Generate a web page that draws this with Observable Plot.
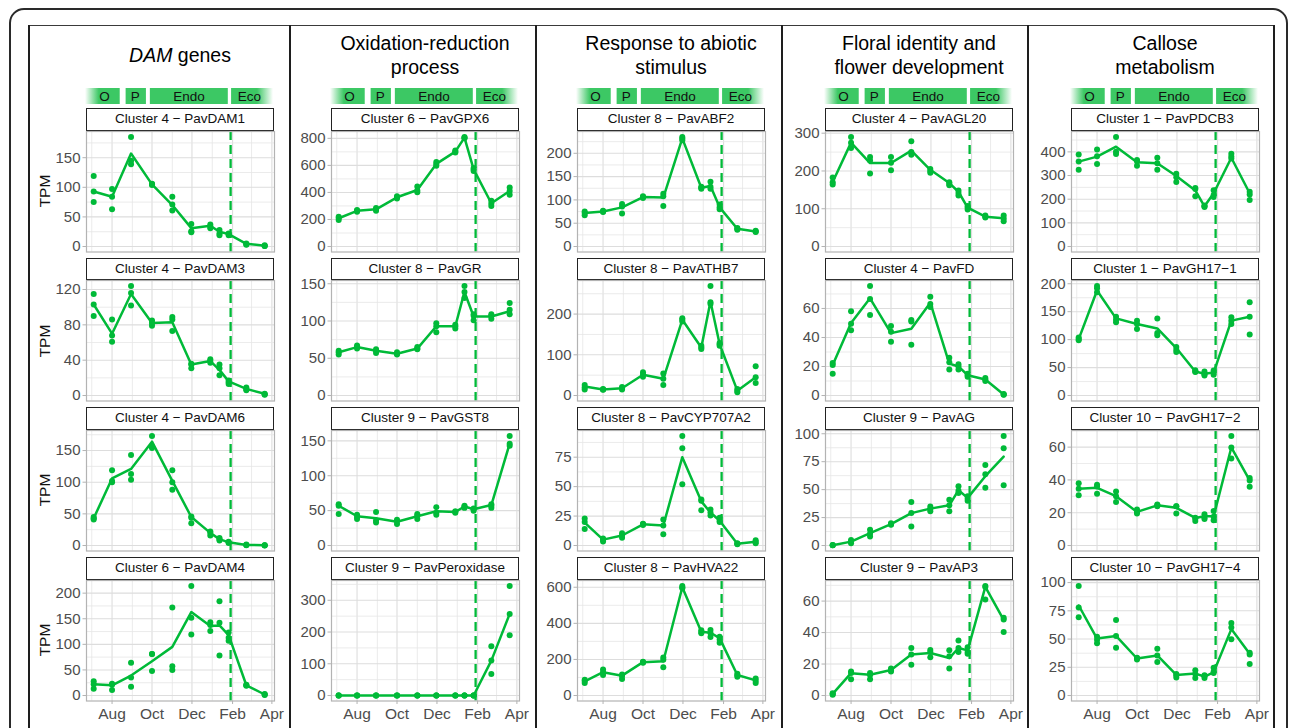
<!DOCTYPE html>
<html><head><meta charset="utf-8">
<script src="https://cdn.jsdelivr.net/npm/d3@7"></script>
<script src="https://cdn.jsdelivr.net/npm/@observablehq/plot@0.6"></script>
<style>
body{margin:0;background:#fff;font-family:"Liberation Sans",Arial,sans-serif;}
#fig{position:relative;width:1290px;height:728px;overflow:hidden;background:#fff;}
.abs{position:absolute;}
.strip{position:absolute;box-sizing:border-box;border:1px solid #222;background:#fff;font-size:13.5px;color:#111;text-align:center;line-height:20.5px;white-space:nowrap;}
.title{position:absolute;display:flex;flex-direction:column;justify-content:center;align-items:center;font-size:19.5px;line-height:24px;color:#000;white-space:nowrap;}
.tpm{position:absolute;font-size:15.5px;color:#111;transform:translate(-50%,-50%) rotate(-90deg);white-space:nowrap;}
</style></head>
<body>
<svg width="0" height="0" style="position:absolute">
<defs>
<linearGradient id="fadeL" x1="0" x2="1" y1="0" y2="0"><stop offset="0" stop-color="#3cc864" stop-opacity="0"/><stop offset="0.4" stop-color="#3cc864" stop-opacity="1"/><stop offset="1" stop-color="#3cc864" stop-opacity="1"/></linearGradient>
<linearGradient id="fadeR" x1="0" x2="1" y1="0" y2="0"><stop offset="0" stop-color="#3cc864" stop-opacity="1"/><stop offset="0.62" stop-color="#3cc864" stop-opacity="1"/><stop offset="1" stop-color="#3cc864" stop-opacity="0"/></linearGradient>
</defs></svg>
<div id="fig"></div>
<script>
// ---------------- data ----------------
const sampleDates = ["2015-07-04","2015-08-01","2015-08-30","2015-10-01","2015-11-01","2015-11-30","2015-12-29","2016-01-12","2016-01-26","2016-02-22","2016-03-21"];
const xDomain = ["2015-06-23","2016-04-05"];
const majorMonths = ["2015-08-01","2015-10-01","2015-12-01","2016-02-01","2016-04-01"];
const minorMonths = ["2015-07-01","2015-09-01","2015-11-01","2016-01-01","2016-03-01"];
const dormancyRelease = ["2016-01-29"];

const phaseNames = ["O","P","Endo","Eco"];
const phaseStart = ["2015-06-23","2015-08-24","2015-09-30","2016-02-01"];
const phaseEnd = ["2015-08-15","2015-09-24","2016-01-27","2016-04-05"];
const phaseLabelAt = ["2015-07-22","2015-09-07","2015-11-28","2016-02-28"];

const columnTitles = [["DAM genes"],["Oxidation-reduction","process"],["Response to abiotic","stimulus"],["Floral identity and","flower development"],["Callose","metabolism"]];
const italicWord = "DAM";
const clusterIds = [[4,4,4,6],[6,8,9,9],[8,8,8,8],[4,4,9,9],[1,1,10,10]];
const geneNames = [["PavDAM1","PavDAM3","PavDAM6","PavDAM4"],["PavGPX6","PavGR","PavGST8","PavPeroxidase"],["PavABF2","PavATHB7","PavCYP707A2","PavHVA22"],["PavAGL20","PavFD","PavAG","PavAP3"],["PavPDCB3","PavGH17−1","PavGH17−2","PavGH17−4"]];
const yAxisTitle = "TPM";

// column 1
const DAM1_mean = [93,84,157,105,70,31,35,25,21,4.5,1.5];
const DAM1_reps = [[119,93,75],[97,84,63],[185,145,139],[106,105,104],[84,71,61],[38,26,24],[37,34,31],[28,22,19],[22,21,19],[5,4,3],[2,1,1]];
const DAM1_ticks = [0,50,100,150];
const DAM3_mean = [103,70,115,82,83,35,39,29,16,7.5,2];
const DAM3_reps = [[115,103,90],[86,68,61],[124,116,102],[85,82,79],[89,86,73],[36,35,31],[41,39,37],[35,31,23],[17,15,13],[9,7,6],[2,1.5,1]];
const DAM3_ticks = [0,40,80,120];
const DAM6_mean = [43,106,121,164,102,45,20,10,5,1,0.3];
const DAM6_reps = [[45,43,41],[119,102,100],[143,113,104],[173,156,154],[119,100,88],[46,44,35],[22,20,16],[12,10,8],[6,5,4],[1.5,1,0.5],[0.5,0.3,0.2]];
const DAM6_ticks = [0,50,100,150];
const DAM4_mean = [22,20,39,67,95,163,136,137,118,20,2];
const DAM4_reps = [[28,22,13],[23,21,11],[64,35,17],[81,81,48],[172,57,50],[214,152,119],[143,138,126],[184,142,78],[123,113,107],[21,20,19],[3,2,1]];
const DAM4_ticks = [0,50,100,150,200];
// column 2
const GPX6_mean = [209,264,275,364,418,611,702,805,570,320,411];
const GPX6_reps = [[220,210,197],[270,265,258],[285,275,265],[372,365,355],[443,415,401],[625,610,598],[710,700,695],[810,805,800],[580,570,558],[338,318,300],[436,411,382]];
const GPX6_ticks = [0,200,400,600,800];
const GR_mean = [58,65,60,56,63,93,93,139,106,106,113];
const GR_reps = [[60,58,55],[67,65,63],[62,60,57],[58,56,55],[65,63,62],[97,93,85],[95,93,90],[147,139,131],[109,107,101],[109,107,103],[124,115,109]];
const GR_ticks = [0,50,100,150];
const GST8_mean = [57,42,39,34,42,49,48,56,52,58,146];
const GST8_reps = [[59,57,45],[44,41,38],[48,36,33],[37,35,31],[45,43,38],[55,47,44],[49,48,47],[57,56,54],[53,52,50],[59,57,54],[157,146,143]];
const GST8_ticks = [0,50,100,150];
const PER_mean = [0,0,0,0,0,0,0,0,0,110,257];
const PER_reps = [[0,0,0],[0,0,0],[0,0,0],[0,0,0],[0,0,0],[0,0,0],[0,0,0],[0,0,0],[0,0,0],[155,110,68],[345,257,190]];
const PER_ticks = [0,100,200,300];
// column 3
const ABF2_mean = [72,75,84,106,105,232,126,130,84,38,32];
const ABF2_reps = [[75,72,67],[77,75,74],[91,86,71],[108,106,104],[113,108,87],[235,232,228],[128,126,124],[139,128,124],[90,84,80],[40,38,36],[34,32,31]];
const ABF2_ticks = [0,50,100,150,200];
const ATHB7_mean = [22,15,18,51,41,186,118,231,126,12,45];
const ATHB7_reps = [[26,20,15],[16,15,14],[21,18,15],[57,52,46],[54,41,26],[190,186,182],[122,118,114],[269,229,225],[129,126,122],[16,12,8],[72,45,31]];
const ATHB7_ticks = [0,100,200];
const CYP_mean = [19.5,5,8.5,18,17,75,37.5,28,21,1.5,3.2];
const CYP_reps = [[23,20,14],[6,5,3.5],[10.5,8.5,6.5],[18.5,18,17.5],[22,17,9.5],[93,82.5,52],[39,38,30],[30.5,28,25.5],[23.5,21,20],[2,1.5,1],[4.5,3,2]];
const CYP_ticks = [0,25,50,75];
const HVA22_mean = [78,129,110,185,190,600,354,348,318,114,84];
const HVA22_reps = [[88,80,70],[144,129,114],[116,110,91],[187,184,182],[211,198,157],[607,600,595],[362,352,345],[363,347,324],[326,311,293],[121,112,104],[95,82,69]];
const HVA22_ticks = [0,200,400,600];
// column 4
const AGL20_mean = [171,275,221,221,254,203,168,145,103,79,75];
const AGL20_reps = [[183,170,164],[290,275,261],[237,228,193],[237,222,202],[279,250,243],[205,200,195],[170,166,162],[148,142,135],[107,103,98],[82,79,77],[82,74,67]];
const AGL20_ticks = [0,100,200,300];
const FD_mean = [21,50,67,43,46,64,22,20,14,11,0.7];
const FD_reps = [[22.5,21,15],[58,49.5,45],[75.5,66.5,55.5],[48,44,37],[52,51,35],[68,63,61],[26,23,18],[21.5,20,18],[15,14,13],[12,11,10],[1,0.7,0.5]];
const FD_ticks = [0,20,40,60];
const AG_mean = [0.3,3.5,11,19.2,29,33,36,49.5,42.6,62,79.6];
const AG_reps = [[0.4,0.3,0.2],[5,3.5,2],[14,10.5,8],[20,19,18.5],[39,29,17],[35,32.7,30.6],[41,36,30.6],[53,49,47],[44,42,40],[72,63.7,51.6],[98,87,54]];
const AG_ticks = [0,25,50,75,100];
const AP3_mean = [1,14.2,13.2,16.2,26,27,23.8,30.2,28.7,69,48];
const AP3_reps = [[1.5,1,0.5],[15.3,14.3,10.4],[14.3,13,10.4],[17.2,16,15.3],[30.2,26,19.6],[29,27.7,24.3],[28.7,25,17.2],[34.9,30.2,27.7],[30.6,27.7,26.6],[69.6,69,61],[49.4,48.3,40.4]];
const AP3_ticks = [0,20,40,60];
// column 5
const PDCB3_mean = [359,380,422,356,352,298,237,170,225,375,225];
const PDCB3_reps = [[389,359,324],[410,382,349],[463,401,391],[366,360,341],[375,352,324],[308,293,273],[247,243,213],[173,170,167],[238,218,209],[392,380,372],[232,220,197]];
const PDCB3_ticks = [0,100,200,300,400];
const GH17_1_mean = [101,188,138,128,120,85,43,39,41,134,141];
const GH17_1_reps = [[104,101,99],[196,192,185],[141,135.5,131],[134,128,119],[138,112,108],[87,82,78],[45,43,42],[43,38,36],[44.6,40.4,37.3],[140,134,128],[167,141,109]];
const GH17_1_ticks = [0,50,100,150,200];
const GH17_2_mean = [34.6,35.2,30.1,20.5,24.5,23,16.8,17.8,17.8,59.8,39.7];
const GH17_2_reps = [[38,34.6,30.7],[37,36,31.5],[33,30,26.6],[22,20.5,19.5],[25,24.5,24],[24,24,19.5],[17,16.5,15],[19,17,16.2],[21,17.5,15.4],[66.8,59.8,53],[41.2,39.7,35.8]];
const GH17_2_ticks = [0,20,40,60];
const GH17_4_mean = [79.7,50.4,52.8,32.8,35.5,18.2,19.4,16.8,20.6,58.8,37];
const GH17_4_reps = [[97,78,69.3],[52,49.3,46.3],[66.9,52.8,42.4],[33.5,33,32],[41.5,35.5,29.6],[19,18,16],[22.4,19,15.5],[18,17,15.5],[24.5,21,20],[64.2,60.3,49.9],[37.9,36.4,28]];
const GH17_4_ticks = [0,25,50,75,100];

const meansByPanel = [[DAM1_mean,DAM3_mean,DAM6_mean,DAM4_mean],[GPX6_mean,GR_mean,GST8_mean,PER_mean],[ABF2_mean,ATHB7_mean,CYP_mean,HVA22_mean],[AGL20_mean,FD_mean,AG_mean,AP3_mean],[PDCB3_mean,GH17_1_mean,GH17_2_mean,GH17_4_mean]];
const repsByPanel = [[DAM1_reps,DAM3_reps,DAM6_reps,DAM4_reps],[GPX6_reps,GR_reps,GST8_reps,PER_reps],[ABF2_reps,ATHB7_reps,CYP_reps,HVA22_reps],[AGL20_reps,FD_reps,AG_reps,AP3_reps],[PDCB3_reps,GH17_1_reps,GH17_2_reps,GH17_4_reps]];
const ticksByPanel = [[DAM1_ticks,DAM3_ticks,DAM6_ticks,DAM4_ticks],[GPX6_ticks,GR_ticks,GST8_ticks,PER_ticks],[ABF2_ticks,ATHB7_ticks,CYP_ticks,HVA22_ticks],[AGL20_ticks,FD_ticks,AG_ticks,AP3_ticks],[PDCB3_ticks,GH17_1_ticks,GH17_2_ticks,GH17_4_ticks]];

// ---------------- layout ----------------
const GREEN = "#00BA38", BAR = "#3cc864";
const FONT = '"Liberation Sans", Arial, sans-serif';
const PW = 188, PH = 120.5, STRIP_H = 22.7;
const panelLeft = [86, 331, 577, 825, 1071];
const stripTop = [108, 257.7, 407.3, 557.3];
const colLines = [29, 290, 536, 782, 1028, 1274];
const fig = document.getElementById("fig");
const parse = d3.utcParse("%Y-%m-%d");
const xDom = xDomain.map(parse);

function el(tag, cls, css, html) {
  const e = document.createElement(tag);
  if (cls) e.className = cls;
  Object.assign(e.style, css || {});
  if (html != null) e.innerHTML = html;
  fig.appendChild(e);
  return e;
}

// frames
el("div", "abs", {left:"9px", top:"8px", width:"1279px", height:"760px", boxSizing:"border-box", border:"2px solid #2a2a2a", borderRadius:"15px"});
el("div", "abs", {left:"29px", top:"24.5px", width:(1274-29)+"px", height:"1.5px", background:"#3a3a3a"});
colLines.forEach(x => el("div", "abs", {left:(x-0.6)+"px", top:"25px", width:"1.3px", height:"720px", background:"#1e1e1e"}));

const phases = phaseNames.map((n,i) => ({name:n, start:parse(phaseStart[i]), end:parse(phaseEnd[i]), at:parse(phaseLabelAt[i])}));

for (let c = 0; c < 5; c++) {
  const L = panelLeft[c];
  // column title
  const lines = columnTitles[c].map(t => t.replace(italicWord, "<i>" + italicWord + "</i>"));
  el("div", "title", {left:L+"px", top:"31px", width:PW+"px", height:"48px"}, lines.map(t => "<div>"+t+"</div>").join(""));

  // phase bar
  const bar = Plot.plot({
    width: PW, height: 16, margin: 0,
    style: {background:"transparent", fontFamily: FONT, overflow:"visible"},
    x: {type:"utc", domain: xDom, axis: null},
    marks: [
      Plot.rect(phases.filter(p => p.name === "O"), {x1:"start", x2:"end", fill:"url(#fadeL)"}),
      Plot.rect(phases.filter(p => p.name === "P" || p.name === "Endo"), {x1:"start", x2:"end", fill:BAR}),
      Plot.rect(phases.filter(p => p.name === "Eco"), {x1:"start", x2:"end", fill:"url(#fadeR)"}),
      Plot.text(phases, {x:"at", text:"name", frameAnchor:"middle", fontSize:13.5, fill:"#111"})
    ]
  });
  const bw = el("div", "abs", {left:(L-1)+"px", top:"87.5px"});
  bw.appendChild(bar);

  for (let r = 0; r < 4; r++) {
    const top = stripTop[r];
    el("div", "strip", {left:L+"px", top:top+"px", width:PW+"px", height:STRIP_H+"px"}, "Cluster " + clusterIds[c][r] + " − " + geneNames[c][r]);
    const pTop = top + STRIP_H;
    const mean = meansByPanel[c][r], reps = repsByPanel[c][r], ticks = ticksByPanel[c][r];
    const lineData = sampleDates.map((d,i) => ({date:parse(d), value:mean[i]}));
    const pts = sampleDates.flatMap((d,i) => reps[i].map(v => ({date:parse(d), value:v})));
    const max = d3.max([...mean, ...reps.flat()]);
    const yDom = [-0.05*max, 1.05*max];
    const step = ticks[1] - ticks[0];
    const minor = [];
    for (let v = ticks[0] + step/2; v < yDom[1]; v += step) minor.push(v);
    const bottom = r === 3;
    const ML = 40, MB = bottom ? 26 : 0;
    const marks = [
      Plot.gridX(minorMonths.map(parse), {stroke:"#e6e6e6", strokeOpacity:1, strokeWidth:0.8}),
      Plot.gridX(majorMonths.map(parse), {stroke:"#dddddd", strokeOpacity:1, strokeWidth:1.1}),
      Plot.gridY(minor, {stroke:"#e6e6e6", strokeOpacity:1, strokeWidth:0.8}),
      Plot.gridY(ticks, {stroke:"#dddddd", strokeOpacity:1, strokeWidth:1.1}),
      Plot.ruleX(dormancyRelease.map(parse), {stroke:GREEN, strokeWidth:2.3, strokeDasharray:"9,5"}),
      Plot.line(lineData, {x:"date", y:"value", stroke:GREEN, strokeWidth:2.5}),
      Plot.dot(pts, {x:"date", y:"value", fill:GREEN, r:3}),
      Plot.frame({stroke:"#b3b3b3", strokeWidth:1.2}),
      Plot.axisY(ticks, {tickSize:3.5, tickPadding:2.5, fontSize:15, stroke:"#b3b3b3", fill:"#4d4d4d", label:null})
    ];
    if (bottom) marks.push(Plot.axisX(majorMonths.map(parse), {tickSize:3.5, tickPadding:3.3, fontSize:15.5, stroke:"#b3b3b3", fill:"#4d4d4d", label:null, tickFormat: d3.utcFormat("%b")}));
    const svg = Plot.plot({
      width: ML + PW, height: PH + MB,
      marginLeft: ML, marginRight: 0, marginTop: 0, marginBottom: MB,
      style: {background:"transparent", fontFamily: FONT, overflow:"visible"},
      x: {type:"utc", domain: xDom, ...(bottom ? {} : {axis:null})},
      y: {domain: yDom, label: null},
      marks
    });
    const w = el("div", "abs", {left:(L-ML)+"px", top:pTop+"px"});
    w.appendChild(svg);
    if (c === 0) el("div", "tpm", {left:"45px", top:(pTop + PH/2)+"px"}, yAxisTitle);
  }
}
</script>
</body></html>
